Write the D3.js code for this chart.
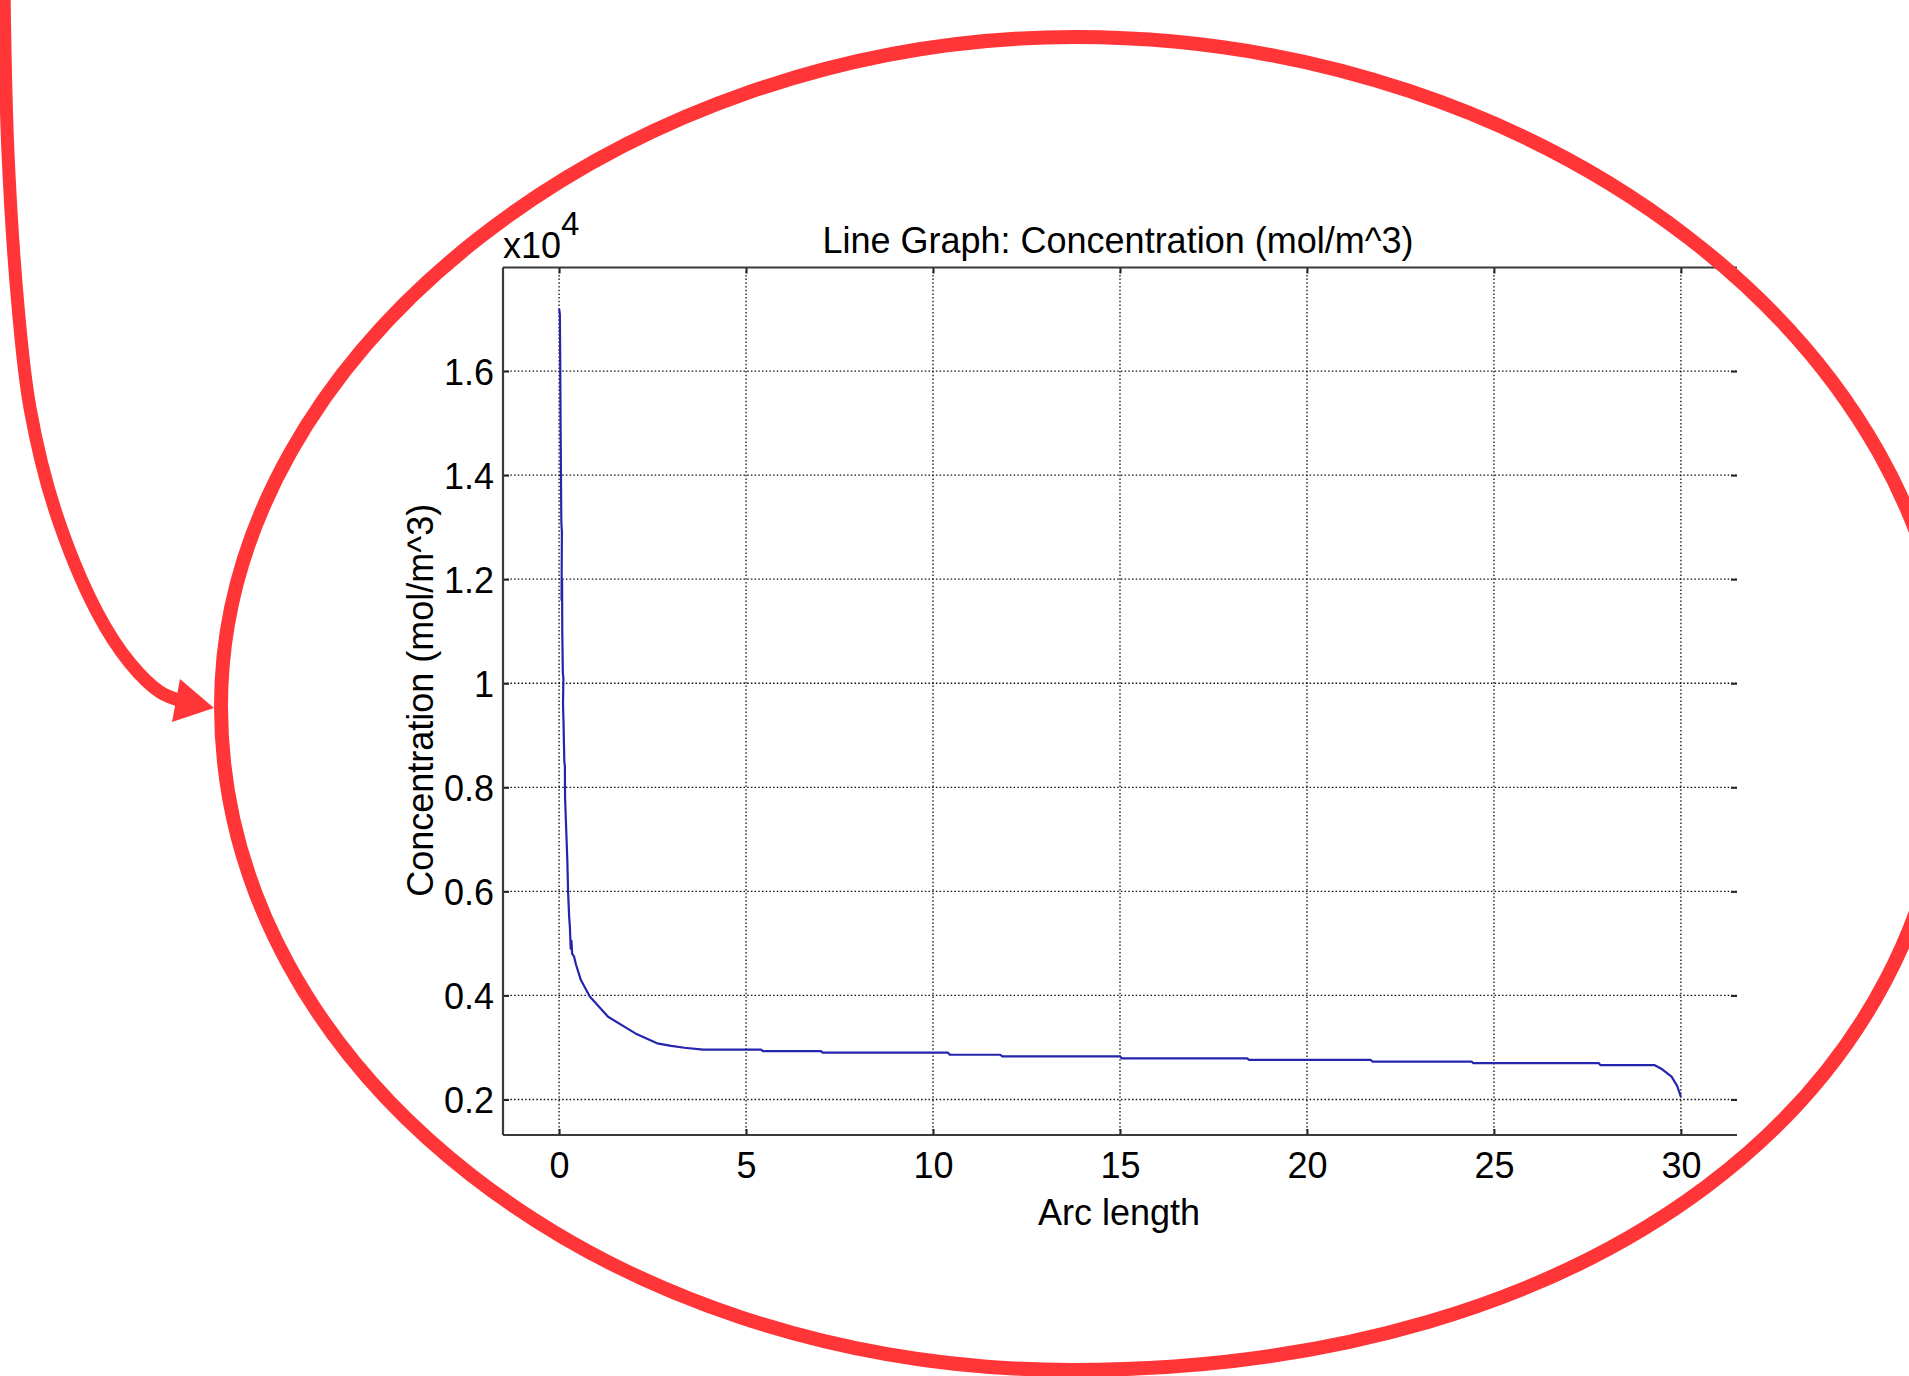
<!DOCTYPE html>
<html>
<head>
<meta charset="utf-8">
<script src="https://cdn.jsdelivr.net/npm/d3@7"></script>
<style>
  html, body { margin: 0; padding: 0; background: #fff; }
  svg { display: block; }
  text { font-family: "Liberation Sans", Arial, sans-serif; fill: #000; }
</style>
</head>
<body>
<svg id="chart" width="1909" height="1376"></svg>
<script>
// concentration along the arc, in units of 10^4 mol/m^3
const arcLength = [
  0.00, 0.02, 0.03, 0.04, 0.05, 0.06, 0.075, 0.065, 0.08, 0.085,
  0.10, 0.115, 0.105, 0.12, 0.14, 0.155, 0.16, 0.19, 0.21, 0.22,
  0.24, 0.27, 0.29, 0.31, 0.33, 0.35, 0.40, 0.45, 0.58, 0.82,
  1.31, 2.04, 2.62, 3.00, 3.35, 3.85,
  5.40, 5.45, 7.00, 7.05, 10.40, 10.45, 11.80, 11.85, 15.00, 15.05,
  18.40, 18.45, 21.70, 21.75, 24.40, 24.45, 27.80, 27.85, 29.30,
  29.50, 29.75, 29.90, 30.00
];
const concentration = [
  1.72, 1.71, 1.62, 1.50, 1.40, 1.31, 1.29, 1.16, 1.20, 1.10,
  1.02, 1.01, 0.96, 0.92, 0.85, 0.84, 0.78, 0.72, 0.68, 0.66,
  0.60, 0.55, 0.53, 0.49, 0.505, 0.48, 0.475, 0.46, 0.43, 0.398,
  0.359, 0.327, 0.308, 0.303, 0.2995, 0.296,
  0.296, 0.293, 0.293, 0.290, 0.290, 0.286, 0.286, 0.283, 0.283, 0.279,
  0.279, 0.276, 0.276, 0.273, 0.273, 0.270, 0.270, 0.266, 0.266,
  0.258, 0.244, 0.226, 0.205
];

const xTicks = [0, 5, 10, 15, 20, 25, 30];
const yTicks = [0.2, 0.4, 0.6, 0.8, 1.0, 1.2, 1.4, 1.6];
const xDomain = [-1.5, 31.5];
const yDomain = [0.1318, 1.799];

const svg = d3.select("#chart"),
  width = +svg.attr("width"),
  height = +svg.attr("height");

const margin = { top: 267.5, right: 172, bottom: 241, left: 503 };
const w = width - margin.left - margin.right,
  h = height - margin.top - margin.bottom;

const x = d3.scaleLinear().domain(xDomain).range([0, w]);
const y = d3.scaleLinear().domain(yDomain).range([h, 0]);

const g = svg.append("g").attr("transform", "translate(" + margin.left + "," + margin.top + ")");

// dotted grid
g.append("g").selectAll("line").data(xTicks).enter().append("line")
  .attr("x1", d => x(d)).attr("x2", d => x(d))
  .attr("y1", 0).attr("y2", h)
  .attr("stroke", "#111").attr("stroke-width", 1.3)
  .attr("stroke-dasharray", "1.5,2.2");

g.append("g").selectAll("line").data(yTicks).enter().append("line")
  .attr("x1", 0).attr("x2", w)
  .attr("y1", d => y(d)).attr("y2", d => y(d))
  .attr("stroke", "#111").attr("stroke-width", 1.3)
  .attr("stroke-dasharray", "1.5,2.2");

// axes, ticks pointing inward
const fmt = d => d3.format("~g")(d);

const xAxis = g.append("g").attr("transform", "translate(0," + h + ")")
  .call(d3.axisBottom(x).tickValues(xTicks).tickSize(-6).tickPadding(17).tickFormat(fmt));
const xTop = g.append("g")
  .call(d3.axisTop(x).tickValues(xTicks).tickSize(-6).tickFormat(""));
const yAxis = g.append("g")
  .call(d3.axisLeft(y).tickValues(yTicks).tickSize(-6).tickPadding(9).tickFormat(fmt));
const yRight = g.append("g").attr("transform", "translate(" + w + ",0)")
  .call(d3.axisLeft(y).tickValues(yTicks).tickSize(6).tickFormat(""));

[xAxis, xTop, yAxis, yRight].forEach(a => {
  a.select(".domain").remove();
  a.selectAll(".tick line").attr("stroke", "#222").attr("stroke-width", 2);
  a.selectAll(".tick text").style("font-size", "36px").attr("fill", "#000");
});
yAxis.selectAll(".tick text").attr("dy", "0.36em");

// frame: left, bottom and top (no right edge in the original)
const frame = [
  [[0, 0], [0, h]],
  [[0, h], [w, h]],
  [[0, 0], [w, 0]]
];
g.append("g").selectAll("line").data(frame).enter().append("line")
  .attr("x1", d => d[0][0]).attr("y1", d => d[0][1])
  .attr("x2", d => d[1][0]).attr("y2", d => d[1][1])
  .attr("stroke", "#3a3a3a").attr("stroke-width", 2.2);

// data line
const line = d3.line()
  .x((d, i) => x(arcLength[i]))
  .y(d => y(d));

g.append("path")
  .datum(concentration)
  .attr("d", line)
  .attr("fill", "none")
  .attr("stroke", "#2424ad")
  .attr("stroke-width", 2.2)
  .attr("stroke-linejoin", "round");

// texts
g.append("text")
  .attr("x", w / 2 - 2).attr("y", -14.5)
  .attr("text-anchor", "middle")
  .style("font-size", "36px")
  .text("Line Graph: Concentration (mol/m^3)");

const expo = g.append("text")
  .attr("x", 0).attr("y", -9.5)
  .style("font-size", "36px");
expo.append("tspan").text("x10");
expo.append("tspan").attr("dy", -23).style("font-size", "33px").text("4");

g.append("text")
  .attr("x", w / 2 - 1).attr("y", h + 90)
  .attr("text-anchor", "middle")
  .style("font-size", "36px")
  .text("Arc length");

g.append("text")
  .attr("transform", "translate(" + (-70) + "," + (h / 2 - 1) + ") rotate(-90)")
  .attr("text-anchor", "middle")
  .style("font-size", "36px")
  .text("Concentration (mol/m^3)");

// red hand-drawn annotation: lopsided oval and arrow
const red = "#ff3538";
const L = [221, 706], T = [1075, 37], R = [1950, 715], B = [1072, 1370];
const oval = d3.path();
oval.moveTo(L[0], L[1]);
// top-left quarter
oval.bezierCurveTo(L[0], L[1] - 0.53 * (L[1] - T[1]), T[0] - 0.53 * (T[0] - L[0]), T[1], T[0], T[1]);
// top-right quarter
oval.bezierCurveTo(T[0] + 0.535 * (R[0] - T[0]), T[1], R[0], R[1] - 0.545 * (R[1] - T[1]), R[0], R[1]);
// bottom-right quarter (fuller)
oval.bezierCurveTo(R[0], R[1] + 0.59 * (B[1] - R[1]), B[0] + 0.59 * (R[0] - B[0]), B[1], B[0], B[1]);
// bottom-left quarter
oval.bezierCurveTo(B[0] - 0.55 * (B[0] - L[0]), B[1], L[0], L[1] + 0.55 * (B[1] - L[1]), L[0], L[1]);
oval.closePath();

svg.append("path")
  .attr("d", oval.toString())
  .attr("fill", "none")
  .attr("stroke", red)
  .attr("stroke-width", 14);

const arrowPts = [[4, -10], [8, 153], [18, 306], [30, 408], [55, 510], [97, 612], [130, 663], [160, 692], [182, 701]];
svg.append("path")
  .attr("d", d3.line().curve(d3.curveCatmullRom)(arrowPts))
  .attr("fill", "none")
  .attr("stroke", red)
  .attr("stroke-width", 13);

svg.append("path")
  .attr("d", "M214,708 L180,679 L172,722 Z")
  .attr("fill", red);
</script>
</body>
</html>
